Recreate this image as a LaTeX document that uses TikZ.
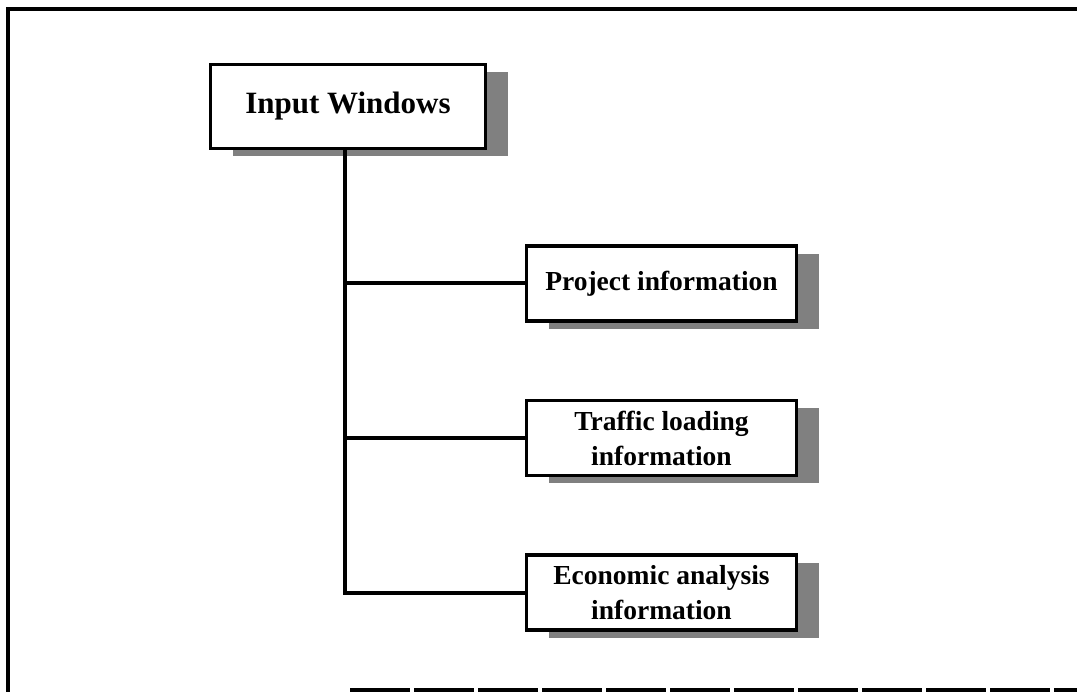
\documentclass[tikz,border=0pt]{standalone}
\usepackage{fontspec}
\setmainfont{Liberation Serif}
\usetikzlibrary{shadows}
\begin{document}
\begin{tikzpicture}[x=1pt, y=-1pt,
  frameline/.style={line width=4.5pt},
  link/.style={line width=4pt},
  winbox/.style={draw, line width=3.8pt, fill=white, align=center,
    general shadow={fill=black!50, shadow xshift=22pt, shadow yshift=-8pt}},
  topbox/.style={winbox, minimum width=275pt, minimum height=84pt,
    font=\bfseries\fontsize{31}{36}\selectfont},
  subbox/.style={winbox, minimum width=270pt, minimum height=75pt,
    font=\bfseries\fontsize{27.5}{35}\selectfont}
]
\useasboundingbox (0,0) rectangle (1077,692);

% page frame
\draw[frameline] (8,692) -- (8,9) -- (1077,9);
\draw[frameline, dash pattern=on 60pt off 4pt] (350,690) -- (1077,690);

% boxes
\node[topbox] (iw) at (348,106.5) {Input Windows};
\node[subbox] (proj) at (661.5,283.5) {Project information};
\node[subbox] (traf) at (661.5,438) {Traffic loading\\information};
\node[subbox] (econ) at (661.5,592.5) {Economic analysis\\information};

% tree connectors
\coordinate (trunk) at ([xshift=-3pt]iw.south);
\draw[link] (trunk) -- (trunk |- econ.west) -- (econ.west);
\draw[link] (trunk |- proj.west) -- (proj.west);
\draw[link] (trunk |- traf.west) -- (traf.west);
\end{tikzpicture}
\end{document}
